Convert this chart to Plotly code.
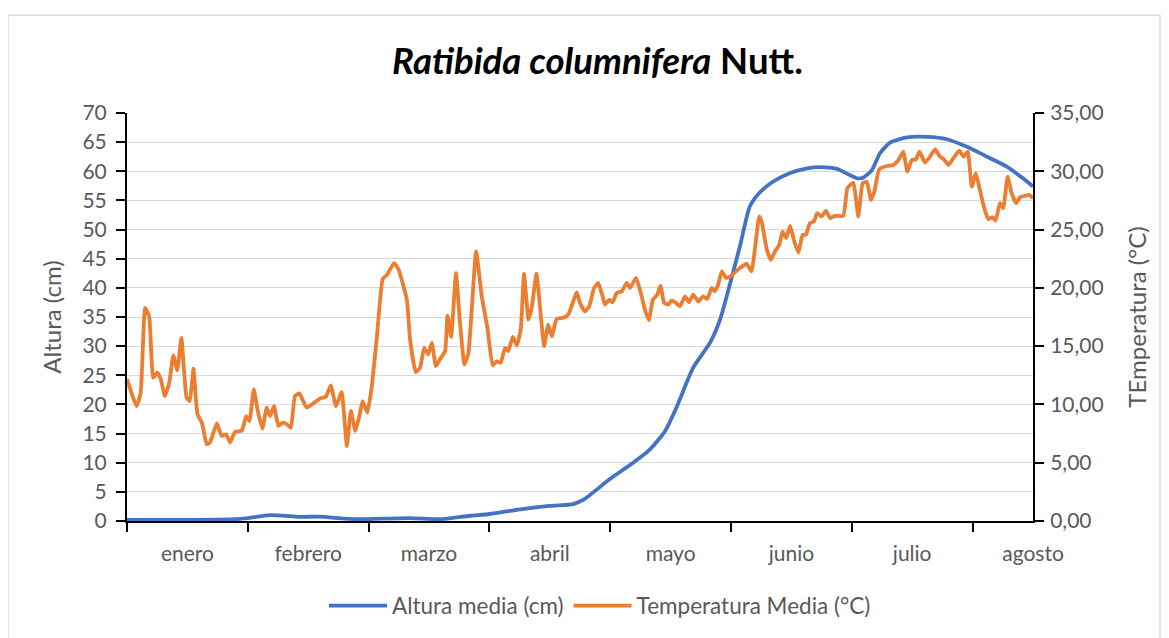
import plotly.graph_objects as go

# ---- data ----
months = ["enero", "febrero", "marzo", "abril", "mayo", "junio", "julio", "agosto"]
month_label_pos = [15, 45, 75, 105, 135, 165, 195, 225]
month_tick_pos = [0, 30, 60, 90, 120, 150, 180, 210]

temp_day = [0, 2.4, 3.4, 4.5, 5.5, 6.5, 7.5, 8.4, 9.4, 10.5, 11.5, 12.5, 13.5, 14.8, 15.6, 16.5,
            17.5, 18.6, 19.8, 20.6, 22.3, 23.5, 24.6, 25.6, 26.8, 28.5, 29.6, 30.4, 31.5, 32.4,
            33.6, 34.7, 35.5, 36.5, 37.6, 38.7, 39.7, 40.7, 41.7, 42.8, 44.6, 46.3, 47.9, 49.4,
            50.6, 51.9, 53.3, 54.6, 55.6, 56.7, 57.7, 58.5, 59.7, 60.8, 62.0, 63.5, 64.6, 66.3,
            67.4, 69.5, 70.3, 71.7, 72.8, 73.8, 74.8, 75.7, 76.7, 77.7, 79.0, 79.6, 80.5, 81.7,
            82.7, 83.8, 84.8, 86.7, 88.1, 89.5, 90.8, 91.8, 92.8, 93.9, 94.7, 95.8, 96.8, 97.8,
            98.6, 99.7, 100.5, 101.7, 102.7, 103.6, 104.6, 105.5, 106.7, 108.3, 109.6, 111.7,
            112.5, 113.7, 114.8, 116.0, 117.0, 117.9, 118.7, 119.8, 120.6, 121.6, 122.9, 124.1,
            124.9, 126.4, 127.6, 128.6, 129.6, 130.6, 131.7, 132.5, 133.4, 134.4, 135.3, 136.3,
            137.3, 138.6, 139.6, 140.6, 141.9, 143.1, 144.1, 145.2, 145.9, 146.8, 147.7, 148.8,
            149.8, 152.2, 153.9, 155.1, 157.0, 157.6, 158.9, 159.9, 160.9, 162.0, 162.8, 163.7,
            164.7, 165.6, 166.7, 167.8, 168.6, 169.6, 170.6, 171.4, 172.5, 173.6, 174.6, 175.8,
            177.9, 178.9, 180.4, 181.6, 182.7, 183.7, 184.8, 185.6, 186.8, 188.7, 190.3, 191.6,
            192.8, 193.8, 194.9, 195.9, 196.8, 198.2, 199.4, 200.7, 201.9, 202.9, 204.0, 205.2,
            206.7, 207.8, 208.8, 209.8, 210.8, 211.8, 212.9, 213.9, 214.9, 215.7, 216.8, 217.6,
            218.7, 219.7, 220.8, 221.8, 223.0, 224.1, 225.0]
temp_val = [12.15, 9.86, 11.0, 18.28, 17.56, 12.29, 12.72, 12.15, 10.72, 11.86, 14.2, 12.94, 15.71,
            10.58, 10.29, 13.06, 9.15, 8.44, 6.59, 6.73, 8.38, 7.3, 7.44, 6.73, 7.64, 7.73, 9.0,
            8.58, 11.29, 9.58, 7.93, 9.73, 9.0, 9.86, 8.15, 8.44, 8.3, 8.0, 10.72, 10.95, 9.73,
            10.1, 10.5, 10.67, 11.63, 9.86, 11.06, 6.44, 9.44, 7.73, 9.0, 10.29, 9.3, 11.57, 15.57,
            20.76, 21.13, 22.13, 21.62, 18.99, 15.57, 12.77, 13.15, 14.86, 14.29, 15.28, 13.29,
            13.86, 14.57, 17.62, 15.8, 21.27, 17.0, 13.43, 14.43, 23.12, 19.27, 16.57, 13.34,
            13.69, 13.58, 14.86, 14.57, 15.8, 15.06, 16.48, 21.19, 17.28, 18.28, 21.21, 17.85,
            15.0, 16.85, 15.85, 17.34, 17.43, 17.71, 19.6, 18.71, 17.99, 18.42, 19.99, 20.42,
            19.56, 18.56, 18.99, 18.76, 19.56, 19.7, 20.42, 19.99, 20.85, 19.56, 18.14, 17.22,
            18.99, 19.42, 20.19, 18.71, 18.56, 18.93, 18.71, 18.42, 19.27, 18.76, 19.42, 18.85,
            19.27, 19.05, 19.99, 19.7, 20.27, 21.41, 20.85, 20.99, 21.7, 22.07, 21.41, 26.12,
            25.69, 23.27, 22.41, 23.12, 23.7, 24.83, 24.27, 25.32, 24.12, 23.04, 24.55, 24.55,
            25.55, 25.69, 26.41, 26.12, 26.63, 25.98, 26.18, 26.18, 28.55, 29.03, 26.12, 28.97,
            29.11, 27.54, 28.26, 30.17, 30.45, 30.54, 30.97, 31.68, 29.97, 30.97, 31.02, 31.68,
            30.74, 31.25, 31.88, 31.25, 31.02, 30.54, 31.11, 31.76, 31.25, 31.68, 28.68, 29.83,
            28.4, 26.83, 25.89, 26.06, 25.77, 27.26, 26.83, 29.54, 28.12, 27.26, 27.78, 27.89,
            27.97, 27.69]

alt_day = [0, 8.2, 18.1, 26.8, 30.0, 35.5, 43.0, 47.9, 54.1, 57.9, 70.3, 77.7, 85.2, 90.1, 97.6,
           105.0, 110.8, 113.7, 119.9, 124.9, 129.9, 133.6, 136.6, 140.6, 144.8, 147.3, 149.8,
           152.2, 154.7, 157.2, 160.4, 164.7, 168.9, 172.1, 176.3, 178.8, 181.3, 182.8, 185.0,
           187.0, 189.5, 193.7, 198.7, 203.6, 208.6, 213.6, 218.5, 222.5, 225.0]
alt_val = [0.2, 0.2, 0.2, 0.3, 0.5, 1.0, 0.7, 0.75, 0.4, 0.3, 0.5, 0.3, 0.9, 1.2, 2.0, 2.6, 2.9,
           3.8, 7.2, 9.6, 12.3, 15.4, 19.7, 26.3, 30.6, 34.6, 40.8, 47.1, 54.0, 56.4, 58.2, 59.7,
           60.5, 60.7, 60.4, 59.6, 58.8, 58.9, 60.2, 63.1, 64.9, 65.8, 65.9, 65.5, 64.2, 62.5,
           60.8, 58.8, 57.4]

left_ticks = list(range(0, 75, 5))
right_ticks = [0, 5, 10, 15, 20, 25, 30, 35]
right_ticktext = ["0,00", "5,00", "10,00", "15,00", "20,00", "25,00", "30,00", "35,00"]

BLUE = "#4472C4"
ORANGE = "#ED7D31"
GREY = "#595959"
FONT = "Lato"

fig = go.Figure()
fig.add_trace(go.Scatter(x=alt_day, y=alt_val, mode="lines", name="Altura media (cm)",
                         line=dict(color=BLUE, width=3.8, shape="spline", smoothing=0.6),
                         yaxis="y"))
fig.add_trace(go.Scatter(x=temp_day, y=temp_val, mode="lines", name="Temperatura Media (°C)",
                         line=dict(color=ORANGE, width=3.8, shape="spline", smoothing=0.4),
                         yaxis="y2"))

OFF = 8  # page body margin
W, H = 1161, 630
L, T = 127 - OFF, 113 - OFF
R = W - (1033 - OFF)
B = H - (522 - OFF)
pw, ph = W - L - R, H - T - B

def px_x(p):
    return (p - OFF - L) / pw

def px_y(p):
    return (H - B - (p - OFF)) / ph

fig.update_layout(
    width=W, height=H,
    margin=dict(l=L, r=R, t=T, b=B, pad=0),
    paper_bgcolor="white", plot_bgcolor="white",
    font=dict(family=FONT, size=21, color=GREY),
    showlegend=True,
    legend=dict(orientation="h", x=px_x(600), xanchor="center", y=px_y(606), yanchor="middle",
                font=dict(size=22.5, color=GREY), tracegroupgap=0, itemwidth=58),
    xaxis=dict(range=[0, 225], showgrid=False, zeroline=False,
               showline=True, linecolor="black", linewidth=2,
               tickmode="array", tickvals=month_label_pos, ticktext=months, ticks="",
               ticklabelstandoff=13, tickfont=dict(size=21, color=GREY),
               minor=dict(tickmode="array", tickvals=month_tick_pos, ticks="outside",
                          ticklen=9, tickwidth=2, tickcolor="black", showgrid=False)),
    yaxis=dict(range=[0, 70], tickvals=left_ticks, showgrid=True, gridcolor="#D9D9D9",
               gridwidth=1.3, zeroline=False, showline=True, linecolor="black", linewidth=2,
               ticks="outside", ticklen=9, tickwidth=2, tickcolor="black",
               ticklabelstandoff=5, tickfont=dict(size=21, color=GREY),
               title=dict(text="Altura (cm)", font=dict(size=24, color=GREY), standoff=14)),
    yaxis2=dict(range=[0, 35], overlaying="y", side="right", tickvals=right_ticks,
                ticktext=right_ticktext, showgrid=False, zeroline=False, showline=True,
                linecolor="black", linewidth=2, ticks="outside", ticklen=9, tickwidth=2,
                tickcolor="black", ticklabelstandoff=2, tickfont=dict(size=21, color=GREY),
                title=dict(text="TEmperatura (°C)", font=dict(size=24, color=GREY), standoff=26)),
    annotations=[dict(text="<b><i>Ratibida columnifera</i> Nutt.</b>", xref="paper", yref="paper",
                      x=px_x(597), y=px_y(60), xanchor="center", yanchor="middle",
                      showarrow=False, font=dict(size=36.5, color="black", family=FONT))],
    shapes=[dict(type="rect", xref="paper", yref="paper", x0=px_x(8), x1=px_x(1160),
                 y0=px_y(660), y1=px_y(15), line=dict(color="#D9D9D9", width=1.3),
                 fillcolor="rgba(0,0,0,0)", layer="below")],
)

fig.write_html("out.html")
